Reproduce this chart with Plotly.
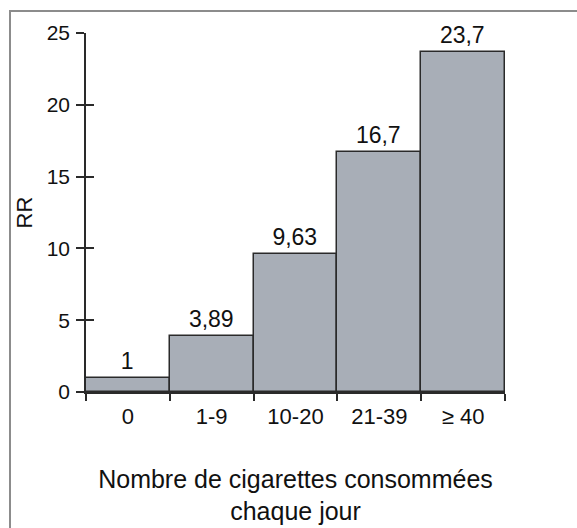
import plotly.graph_objects as go

# Relative risk by daily cigarette consumption
categories = ["0", "1-9", "10-20", "21-39", "\u2265 40"]
rr_values = [1, 3.89, 9.63, 16.7, 23.7]
y_ticks = [0, 5, 10, 15, 20, 25]

bar_labels = [f"{v:g}".replace(".", ",") for v in rr_values]

W, H = 577, 528
M_L, M_R, M_T, M_B = 86, 72, 33, 136

fig = go.Figure()
fig.add_trace(go.Bar(
    x=categories,
    y=rr_values,
    text=bar_labels,
    textposition="outside",
    cliponaxis=False,
    textfont=dict(family="Liberation Sans, Arial, sans-serif", size=23, color="#111111"),
    marker=dict(color="#a8aeb7", line=dict(color="#2a2a2a", width=1.5)),
    hoverinfo="skip",
))
# invisible trace to carry the mirrored (inside) y ticks
fig.add_trace(go.Scatter(x=[categories[0]], y=[0], yaxis="y2", mode="markers",
                         marker=dict(opacity=0), hoverinfo="skip", showlegend=False))

fig.update_layout(
    width=W, height=H,
    margin=dict(l=M_L, r=M_R, t=M_T, b=M_B, autoexpand=False),
    paper_bgcolor="white", plot_bgcolor="white",
    showlegend=False,
    bargap=0,
    font=dict(family="Liberation Sans, Arial, sans-serif", color="#111111"),
    xaxis=dict(
        type="category",
        tickson="boundaries",
        ticks="outside", ticklen=7, tickwidth=1.5, tickcolor="#2a2a2a",
        showline=True, linecolor="#2a2a2a", linewidth=1.5,
        showgrid=False, zeroline=False,
        tickfont=dict(size=22),
        ticklabelstandoff=4,
        title=dict(text="Nombre de cigarettes consommées<br>chaque jour",
                   font=dict(size=25), standoff=42),
        automargin=False,
    ),
    yaxis=dict(
        range=[0, 25],
        tickvals=y_ticks,
        ticks="outside", ticklen=8, tickwidth=1.5, tickcolor="#2a2a2a",
        showline=True, linecolor="#2a2a2a", linewidth=1.5,
        showgrid=False, zeroline=False,
        tickfont=dict(family="Liberation Sans Narrow, Arial Narrow, sans-serif", size=21),
        ticklabelstandoff=2,
        title=dict(text="RR", font=dict(size=22), standoff=8),
        automargin=False,
    ),
    yaxis2=dict(
        overlaying="y", side="left",
        range=[0, 25],
        tickvals=y_ticks,
        ticks="inside", ticklen=8, tickwidth=1.5, tickcolor="#2a2a2a",
        showticklabels=False, showline=False, showgrid=False, zeroline=False,
    ),
)

# outer frame around the figure
pw = W - M_L - M_R
ph = H - M_T - M_B
def px_x(p):
    return (p - M_L) / pw
def px_y(p):
    return (H - M_B - p) / ph
fig.add_shape(type="rect", xref="paper", yref="paper",
              x0=px_x(10), x1=px_x(620), y0=px_y(560), y1=px_y(11),
              line=dict(color="#8c8c8c", width=2), fillcolor="rgba(0,0,0,0)", layer="below")

fig.write_html("out.html")
